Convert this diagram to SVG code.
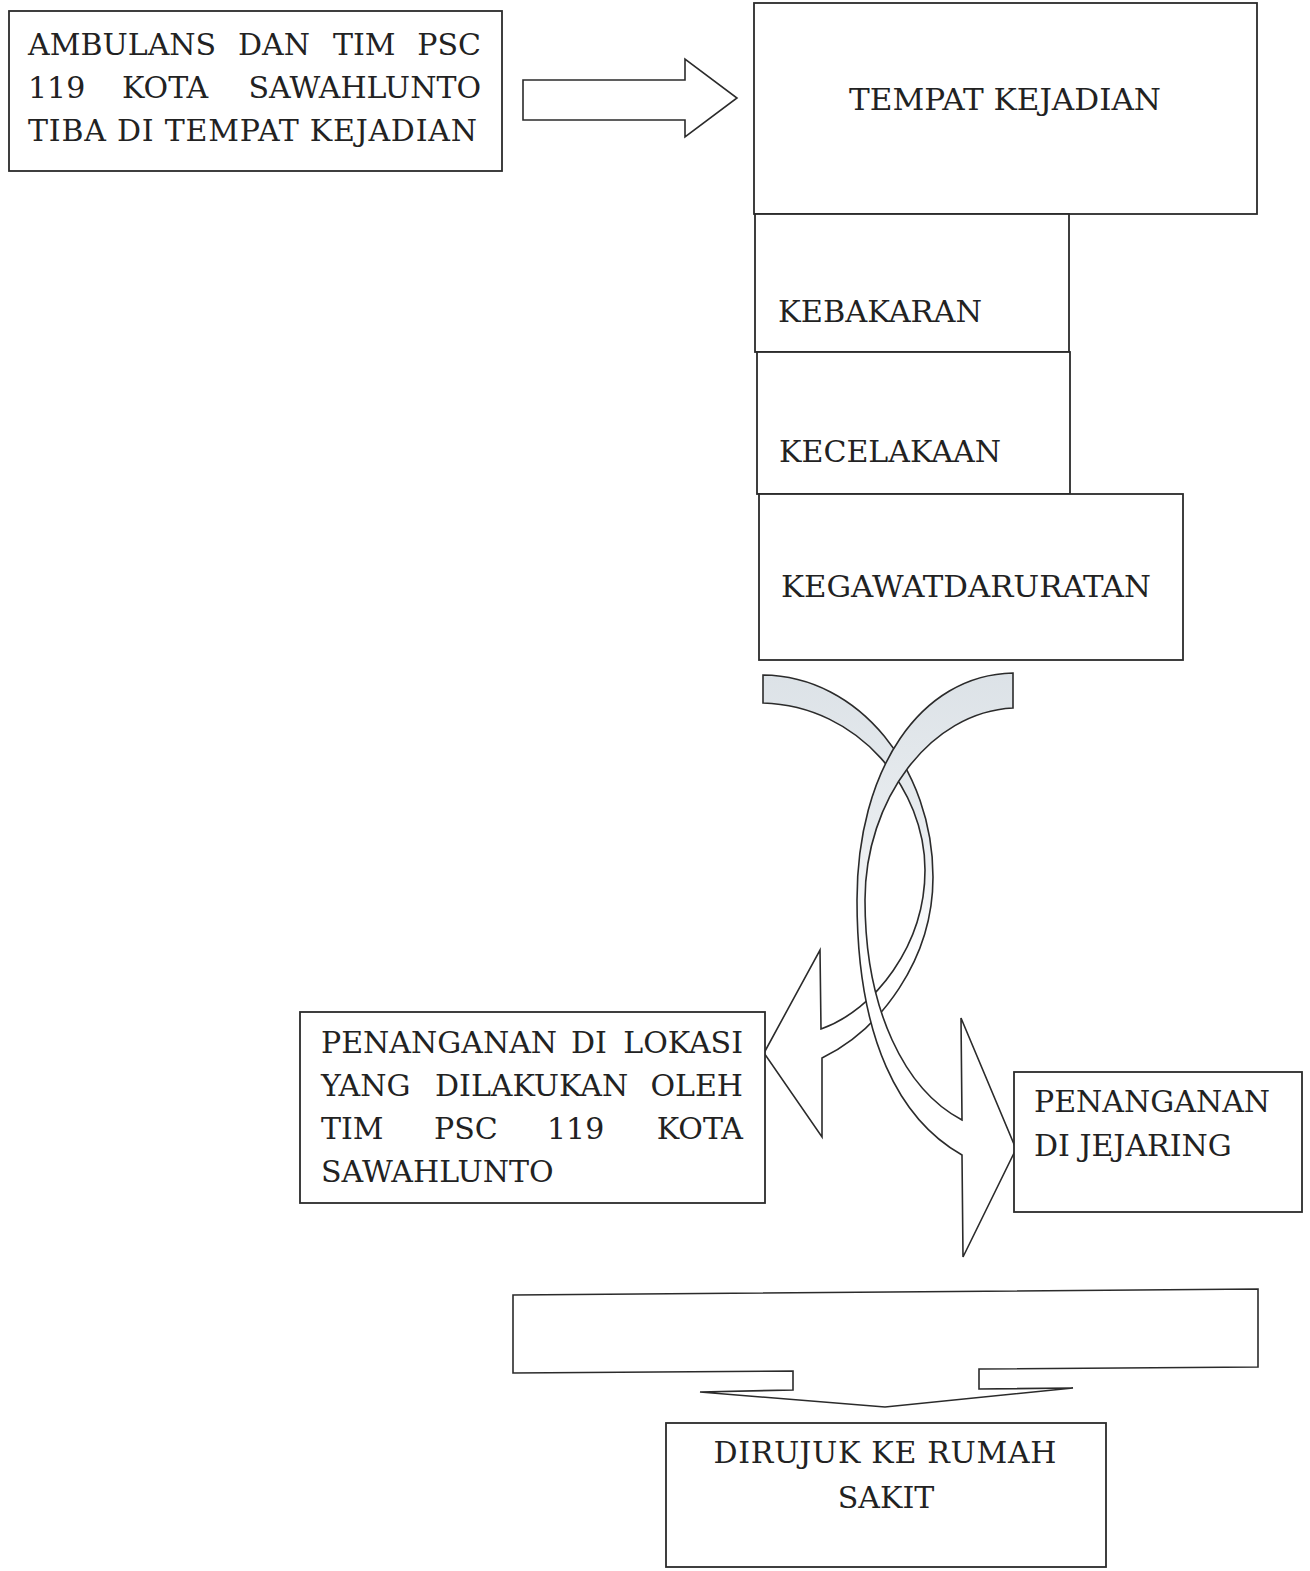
<svg xmlns="http://www.w3.org/2000/svg" width="1310" height="1571" viewBox="0 0 1310 1571">
<style>
.box{fill:#fff;stroke:#2b2b2b;stroke-width:1.8}
.shape{stroke:#2b2b2b;stroke-width:1.6;stroke-linejoin:miter}
.t{font-family:"DejaVu Serif","Liberation Serif",serif;font-size:30px;fill:#222}
</style>
<defs>
<linearGradient id="bandFill" gradientUnits="userSpaceOnUse" x1="0" y1="670" x2="0" y2="960">
<stop offset="0" stop-color="#dce2e7"/>
<stop offset="0.55" stop-color="#e8ecef"/>
<stop offset="1" stop-color="#ffffff"/>
</linearGradient>
</defs>
<rect width="1310" height="1571" fill="#fff"/>

<g id="connectors">
<polygon class="shape" fill="#fff" points="523,80 685,80 685,59 737,98 685,137 685,120 523,120"/>
<path class="shape" fill="url(#bandFill)" d="M763,675 C860,676 933,770 933,877 C933,960 880,1030 822,1058 L822,1137 L764,1053 L820,950 L821,1029 C875,1010 925,945 925,870 C925,790 860,706 763,703 Z"/>
<path class="shape" fill="url(#bandFill)" d="M1013,673 C920,675 857,770 857,900 C857,1040 900,1120 962,1155 L963,1257 L1016,1149 L961,1018 L962,1120 C905,1090 865,1010 865,900 C865,800 930,712 1013,708 Z"/>
<path class="shape" fill="#fff" d="M513,1295 L1258,1289 L1258,1367 L979,1369 L979,1389 L1073,1388 L885,1407 L700,1392 L793,1390 L793,1371 L513,1373 Z"/>
</g>

<g id="node-ambulans">
<rect class="box" x="9" y="11" width="493" height="160"/>
<text class="t" x="28" y="55">AMBULANS</text>
<text class="t" x="238" y="55">DAN</text>
<text class="t" x="333" y="55">TIM</text>
<text class="t" x="481" y="55" text-anchor="end">PSC</text>
<text class="t" x="28" y="98">119</text>
<text class="t" x="122" y="98">KOTA</text>
<text class="t" x="481" y="98" text-anchor="end">SAWAHLUNTO</text>
<text class="t" x="28" y="141" textLength="449" lengthAdjust="spacing">TIBA DI TEMPAT KEJADIAN</text>
</g>

<g id="node-tempat">
<rect class="box" x="754" y="3" width="503" height="211"/>
<text class="t" x="849" y="110" textLength="312" lengthAdjust="spacingAndGlyphs">TEMPAT KEJADIAN</text>
</g>

<g id="node-kebakaran">
<rect class="box" x="755" y="214" width="314" height="138"/>
<text class="t" x="778" y="322" textLength="204" lengthAdjust="spacingAndGlyphs">KEBAKARAN</text>
</g>

<g id="node-kecelakaan">
<rect class="box" x="757" y="352" width="313" height="142"/>
<text class="t" x="779" y="462" textLength="222" lengthAdjust="spacingAndGlyphs">KECELAKAAN</text>
</g>

<g id="node-kegawatdaruratan">
<rect class="box" x="759" y="494" width="424" height="166"/>
<text class="t" x="781" y="597" textLength="370" lengthAdjust="spacingAndGlyphs">KEGAWATDARURATAN</text>
</g>

<g id="node-lokasi">
<rect class="box" x="300" y="1012" width="465" height="191"/>
<text class="t" x="321" y="1053">PENANGANAN</text>
<text class="t" x="571" y="1053">DI</text>
<text class="t" x="743" y="1053" text-anchor="end">LOKASI</text>
<text class="t" x="321" y="1096">YANG</text>
<text class="t" x="435" y="1096">DILAKUKAN</text>
<text class="t" x="743" y="1096" text-anchor="end">OLEH</text>
<text class="t" x="321" y="1139">TIM</text>
<text class="t" x="434" y="1139">PSC</text>
<text class="t" x="547" y="1139">119</text>
<text class="t" x="743" y="1139" text-anchor="end">KOTA</text>
<text class="t" x="321" y="1182">SAWAHLUNTO</text>
</g>

<g id="node-jejaring">
<rect class="box" x="1014" y="1072" width="288" height="140"/>
<text class="t" x="1034" y="1112">PENANGANAN</text>
<text class="t" x="1034" y="1156">DI JEJARING</text>
</g>

<g id="node-rujuk">
<rect class="box" x="666" y="1423" width="440" height="144"/>
<text class="t" x="885" y="1463" text-anchor="middle" textLength="343" lengthAdjust="spacing">DIRUJUK KE RUMAH</text>
<text class="t" x="886" y="1508" text-anchor="middle">SAKIT</text>
</g>
</svg>
